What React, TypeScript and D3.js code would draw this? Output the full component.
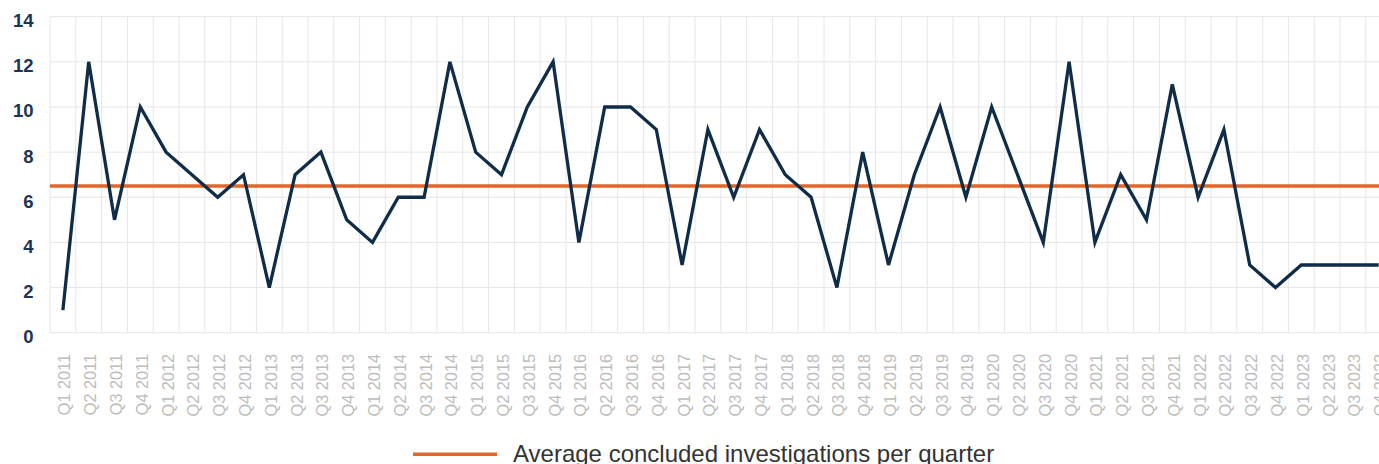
import React from "react";
import * as d3 from "d3";

const years = [2011, 2012, 2013, 2014, 2015, 2016, 2017, 2018, 2019, 2020, 2021, 2022, 2023];
const quarterNames = ["Q1", "Q2", "Q3", "Q4"];
const quarters: string[] = years.flatMap((y) => quarterNames.map((q) => `${q} ${y}`));

const values: number[] = [
  1, 12, 5, 10,
  8, 7, 6, 7,
  2, 7, 8, 5,
  4, 6, 6, 12,
  8, 7, 10, 12,
  4, 10, 10, 9,
  3, 9, 6, 9,
  7, 6, 2, 8,
  3, 7, 10, 6,
  10, 7, 4, 12,
  4, 7, 5, 11,
  6, 9, 3, 2,
  3, 3, 3, 3,
];

const averageValue = 6.5;
const yTicks = [0, 2, 4, 6, 8, 10, 12, 14];
const legendLabel = "Average concluded investigations per quarter";

const W = 1379;
const H = 464;

export default function App() {
  const x = d3.scaleBand<string>().domain(quarters).range([50, 50 + 25.8 * quarters.length]).padding(0);
  const y = d3.scaleLinear().domain([0, 14]).range([332.7, 16.7]);
  const cx = (q: string) => (x(q) as number) + x.bandwidth() / 2;

  const line = d3
    .line<number>()
    .x((_, i) => cx(quarters[i]))
    .y((d) => y(d))
    .curve(d3.curveLinear);

  const boundaries = quarters.map((q) => x(q) as number);
  boundaries.push((x(quarters[quarters.length - 1]) as number) + x.bandwidth());

  return (
    <svg
      width={W}
      height={H}
      style={{ position: "absolute", left: 0, top: 0, background: "#fff", overflow: "hidden" }}
      fontFamily="'Liberation Sans', Arial, sans-serif"
    >
      {yTicks.map((t) => (
        <line key={"h" + t} x1={50} x2={W} y1={y(t)} y2={y(t)} stroke="#e6e6e6" strokeWidth={1} />
      ))}
      {boundaries.map((b, i) => (
        <line key={"v" + i} x1={b} x2={b} y1={y(14)} y2={y(0)} stroke="#e6e6e6" strokeWidth={1} />
      ))}
      {yTicks.map((t) => (
        <text
          key={"yl" + t}
          x={33.5}
          y={y(t) + 4}
          textAnchor="end"
          dominantBaseline="central"
          fontSize={18.5}
          fontWeight="bold"
          fill="#1d3550"
        >
          {t}
        </text>
      ))}
      {quarters.map((q) => (
        <text
          key={"xl" + q}
          transform={`translate(${cx(q) + 1.5},${354}) rotate(-90)`}
          textAnchor="end"
          dominantBaseline="central"
          fontSize={16.3}
          fill="#bdbdbd"
        >
          {q}
        </text>
      ))}
      <line x1={50} x2={W} y1={y(averageValue)} y2={y(averageValue)} stroke="#e2672d" strokeWidth={3.5} />
      <path d={line(values) || ""} fill="none" stroke="#0f2c48" strokeWidth={3.3} strokeLinejoin="miter" />
      <line x1={413} x2={497} y1={454.3} y2={454.3} stroke="#e2672d" strokeWidth={3.5} />
      <text x={513} y={461.5} fontSize={24} fill="#333">
        {legendLabel}
      </text>
    </svg>
  );
}
